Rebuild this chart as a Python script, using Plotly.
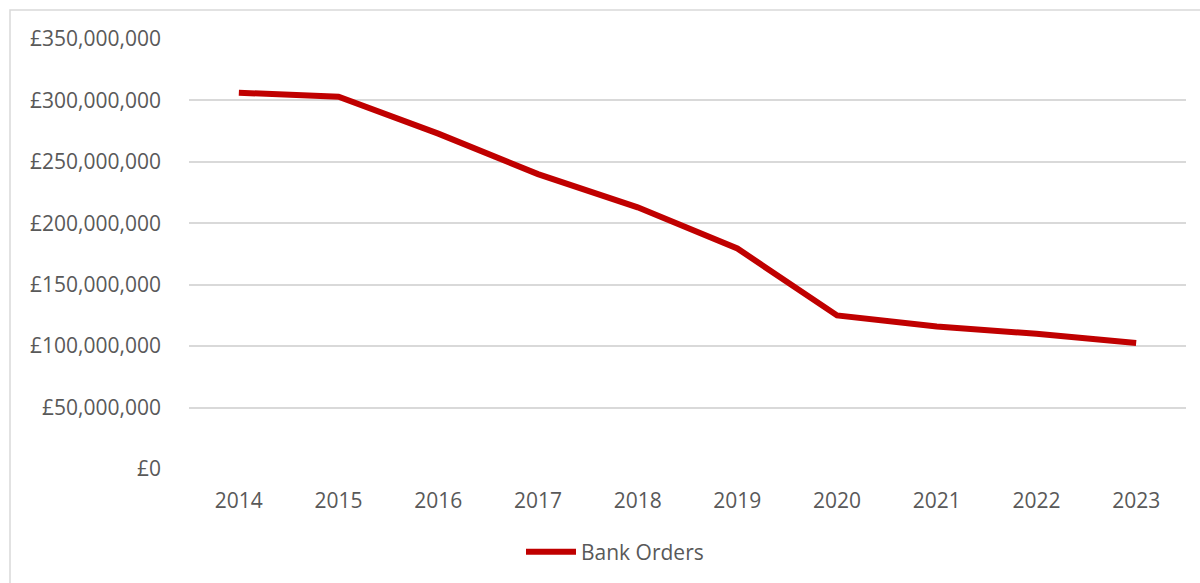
import plotly.graph_objects as go

# Annual value of bank orders (GBP)
years = ["2014", "2015", "2016", "2017", "2018", "2019", "2020", "2021", "2022", "2023"]
bank_orders = [306_300_000, 303_000_000, 273_000_000, 240_000_000, 213_000_000,
               179_500_000, 125_000_000, 116_000_000, 110_000_000, 102_500_000]

y_ticks = [0, 50_000_000, 100_000_000, 150_000_000, 200_000_000,
           250_000_000, 300_000_000, 350_000_000]
y_tick_labels = ["£0", "£50,000,000", "£100,000,000", "£150,000,000", "£200,000,000",
                 "£250,000,000", "£300,000,000", "£350,000,000"]

W, H = 1200, 583
L, R, T, B = 189, 14, 39, 114
pw, ph = W - L - R, H - T - B

text_color = "#595959"
grid_color = "#d9d9d9"
font = dict(family="Open Sans, Liberation Sans, sans-serif", size=21, color=text_color)

fig = go.Figure()
fig.add_trace(go.Scatter(
    x=years, y=bank_orders, mode="lines", name="Bank Orders",
    line=dict(color="#C00000", width=6, shape="linear"),
))

# Chart-area frame
fig.add_shape(type="rect", xref="paper", yref="paper",
              x0=(10 - L) / pw, x1=(W + 20 - L) / pw,
              y0=(T + ph - (H + 20)) / ph, y1=(T + ph - 10) / ph,
              line=dict(color=grid_color, width=1.5), fillcolor="rgba(0,0,0,0)",
              layer="below")

fig.update_layout(
    width=W, height=H,
    margin=dict(l=L, r=R, t=T, b=B, autoexpand=False),
    paper_bgcolor="white", plot_bgcolor="white",
    font=font,
    showlegend=True,
    legend=dict(orientation="h", x=(615 - L) / pw, xanchor="center",
                y=(T + ph - 552) / ph, yanchor="middle",
                font=dict(family=font["family"], size=21, color=text_color),
                itemwidth=50, bgcolor="rgba(0,0,0,0)"),
    xaxis=dict(type="category", showgrid=False, zeroline=False, showline=False,
               ticks="", tickfont=font, ticklabelstandoff=17,
               range=[-0.5, len(years) - 0.5]),
    yaxis=dict(range=[0, 350_000_000], tickvals=y_ticks, ticktext=y_tick_labels,
               showgrid=True, gridcolor=grid_color, gridwidth=1.5,
               zeroline=False, showline=False, ticks="", tickfont=font,
               ticklabelstandoff=27),
)

fig.write_html("out.html")
